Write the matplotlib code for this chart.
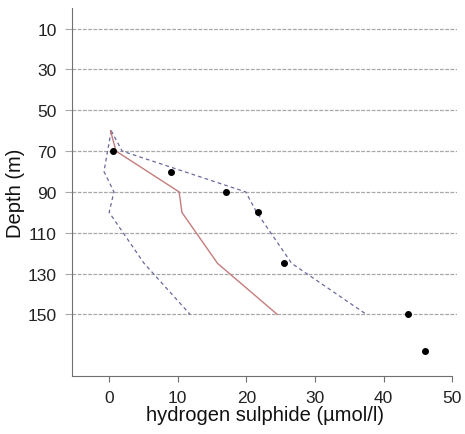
import numpy as np
import matplotlib
matplotlib.use('Agg')
from matplotlib import pyplot as plt

plt.rcParams['font.family'] = ['Liberation Sans', 'DejaVu Sans']

# observed H2S
obs_x = [0.5, 9.0, 17.0, 21.7, 25.5, 43.5, 46.0]
obs_depth = [70, 80, 90, 100, 125, 150, 168]

# model mean
mod_x = [0.2, 1.0, 10.2, 10.6, 15.8, 24.5]
mod_depth = [60, 70, 90, 100, 125, 150]

# upper and lower bounds
up_x = [0.3, 1.9, 19.9, 21.5, 26.6, 37.5]
up_depth = [60, 70, 90, 100, 125, 150]
lo_x = [0.3, -0.75, 0.7, 0.0, 5.1, 11.8]
lo_depth = [60, 80, 90, 100, 125, 150]

yticks = [10, 30, 50, 70, 90, 110, 130, 150]
xticks = [0, 10, 20, 30, 40, 50]

fig = plt.figure(figsize=(4.65, 4.35), dpi=100)
ax = fig.add_axes([0.155, 0.134, 0.828, 0.845])

for d in yticks:
    ax.axhline(d, color='#a8a8a8', lw=0.9, ls=(0, (3, 1.2)), zorder=1)

ax.plot(up_x, up_depth, color='#6a6a9c', lw=0.9, ls=(0, (3, 2.5)), zorder=2)
ax.plot(lo_x, lo_depth, color='#6a6a9c', lw=0.9, ls=(0, (3, 2.5)), zorder=2)
ax.plot(mod_x, mod_depth, color='#c47c7c', lw=1.0, zorder=3)
ax.scatter(obs_x, obs_depth, s=16, color='black', zorder=4)

ax.set_xlim(-5.4, 50.7)
ax.set_ylim(180, 0)
ax.set_yticks(yticks)
ax.set_xticks(xticks)

for s in ['top', 'right']:
    ax.spines[s].set_visible(False)
ax.spines['left'].set_color('#707070')
ax.spines['bottom'].set_color('#707070')
ax.spines['bottom'].set_bounds(-5.4, 50)

ax.tick_params(axis='x', length=4, color='#707070', labelsize=12.5, labelcolor='#222222', pad=6)
ax.tick_params(axis='y', length=5, color='#a8a8a8', labelsize=12.5, labelcolor='#222222', pad=6)

ax.set_xlabel('hydrogen sulphide (µmol/l)', fontsize=14.5, color='#111111', labelpad=0)
ax.set_ylabel('Depth (m)', fontsize=14.5, color='#111111', labelpad=2)

fig.savefig('out.png', dpi=100)
